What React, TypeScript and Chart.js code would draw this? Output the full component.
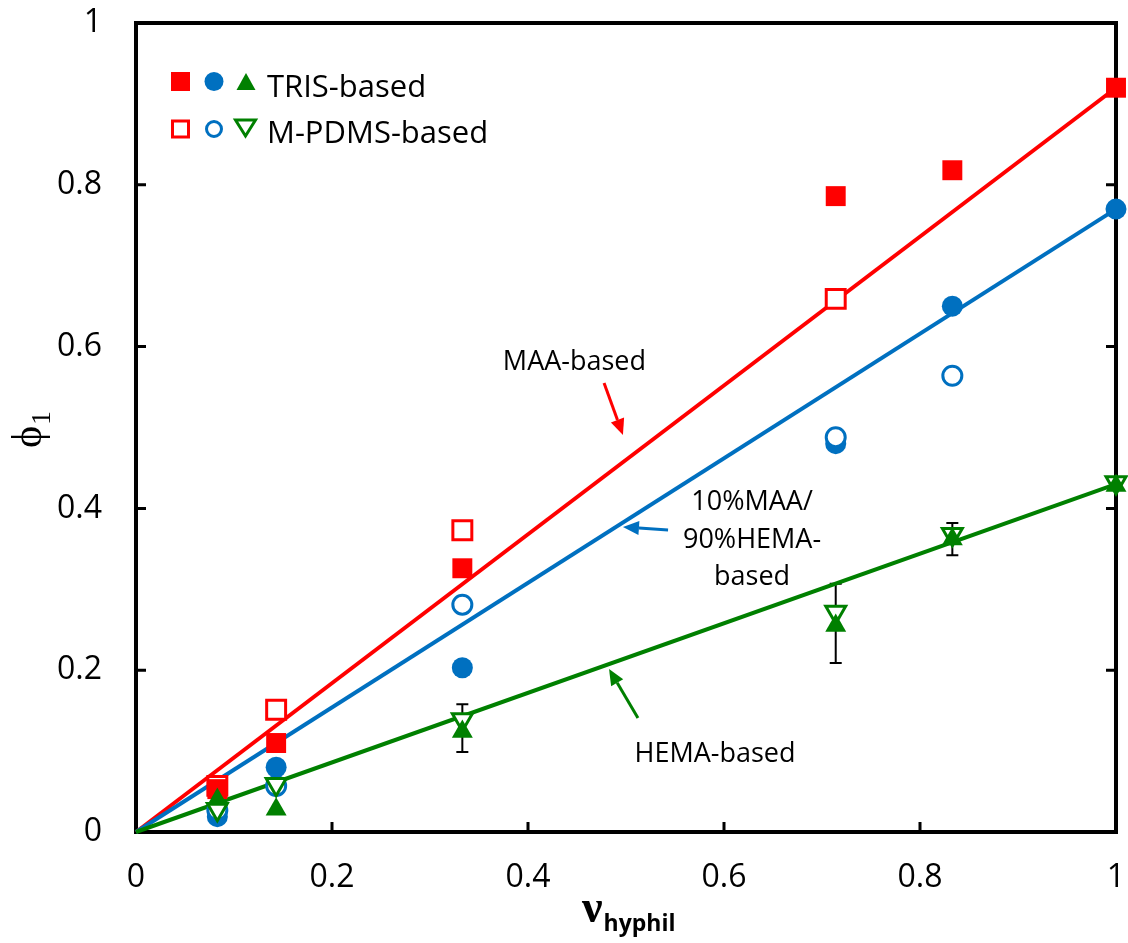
import React, { useEffect, useRef } from "react";
import { Chart, registerables } from "chart.js";

Chart.register(...registerables);

// ---- data ----
const xValues = [0.083, 0.143, 0.333, 0.714, 0.833, 1.0];
const tickValues = [0.2, 0.4, 0.6, 0.8];
const tickLabels = ["0", "0.2", "0.4", "0.6", "0.8", "1"];

// TRIS-based (filled markers)
const maaTris = [0.053, 0.11, 0.326, 0.786, 0.818, 0.92];
const mixTris = [0.019, 0.08, 0.203, 0.48, 0.65, 0.77];
const hemaTris = [0.04, 0.028, 0.124, 0.255, 0.362, 0.428];

// M-PDMS-based (open markers)
const maaPdms = [0.057, 0.151, 0.373, 0.659, null, null];
const mixPdms = [0.027, 0.057, 0.281, 0.488, 0.564, null];
const hemaPdms = [0.028, 0.059, 0.139, 0.272, 0.368, 0.432];

// error bars (HEMA-based)
const hemaErrLow = [null, null, 0.099, 0.209, 0.342, null];
const hemaErrHigh = [null, null, 0.158, 0.307, 0.382, null];

// fitted lines through the origin
const fitX = [0, 1];
const fitMaa = [0, 0.92];
const fitMix = [0, 0.77];
const fitHema = [0, 0.43];

const RED = "#FF0000";
const BLUE = "#0070C0";
const GREEN = "#008000";
const SANS = '"Open Sans", "DejaVu Sans", sans-serif';
const SERIF = '"Liberation Serif", "DejaVu Serif", serif';

// annotation anchors in data coordinates
const annMaaText = { x: 0.4474, y: 0.5711 };
const annMaaArrow = { x1: 0.4776, y1: 0.555, x2: 0.4969, y2: 0.4907 };
const annMixLines = ["10%MAA/", "90%HEMA-", "based"];
const annMixX = 0.6286;
const annMixY = [0.398, 0.351, 0.3053];
const annMixArrow = { x1: 0.5429, y1: 0.3733, x2: 0.4969, y2: 0.377 };
const annHemaText = { x: 0.5908, y: 0.0865 };
const annHemaArrow = { x1: 0.5122, y1: 0.1409, x2: 0.4827, y2: 0.2015 };

function pts(ys: (number | null)[]) {
  const out: { x: number; y: number }[] = [];
  xValues.forEach((x, i) => {
    const y = ys[i];
    if (y !== null && y !== undefined) out.push({ x, y });
  });
  return out;
}

function fitPts(ys: number[]) {
  return fitX.map((x, i) => ({ x, y: ys[i] }));
}

function fmtTick(v: number) {
  const idx = Math.round(v / 0.2);
  return tickLabels[idx] ?? String(v);
}

function drawArrow(ctx: CanvasRenderingContext2D, x1: number, y1: number, x2: number, y2: number, color: string) {
  const ang = Math.atan2(y2 - y1, x2 - x1);
  const headLen = 16;
  const headW = 7;
  const bx = x2 - Math.cos(ang) * headLen;
  const by = y2 - Math.sin(ang) * headLen;
  ctx.save();
  ctx.strokeStyle = color;
  ctx.fillStyle = color;
  ctx.lineWidth = 3;
  ctx.beginPath();
  ctx.moveTo(x1, y1);
  ctx.lineTo(bx, by);
  ctx.stroke();
  ctx.beginPath();
  ctx.moveTo(x2, y2);
  ctx.lineTo(bx + Math.sin(ang) * headW, by - Math.cos(ang) * headW);
  ctx.lineTo(bx - Math.sin(ang) * headW, by + Math.cos(ang) * headW);
  ctx.closePath();
  ctx.fill();
  ctx.restore();
}

function shapeSquare(ctx: CanvasRenderingContext2D, cx: number, cy: number, s: number) {
  ctx.beginPath();
  ctx.rect(cx - s / 2, cy - s / 2, s, s);
}
function shapeCircle(ctx: CanvasRenderingContext2D, cx: number, cy: number, r: number) {
  ctx.beginPath();
  ctx.arc(cx, cy, r, 0, Math.PI * 2);
}
function shapeTri(ctx: CanvasRenderingContext2D, cx: number, top: number, w: number, h: number, inverted: boolean) {
  ctx.beginPath();
  if (!inverted) {
    ctx.moveTo(cx, top);
    ctx.lineTo(cx + w / 2, top + h);
    ctx.lineTo(cx - w / 2, top + h);
  } else {
    ctx.moveTo(cx - w / 2, top);
    ctx.lineTo(cx + w / 2, top);
    ctx.lineTo(cx, top + h);
  }
  ctx.closePath();
}

function zeroPad(s: any) {
  s.paddingTop = 0;
  s.paddingBottom = 0;
  s.paddingLeft = 0;
  s.paddingRight = 0;
}

const decorPlugin = {
  id: "decor",
  beforeDatasetsDraw(chart: any) {
    const { ctx, chartArea: a, scales } = chart;
    const xs = scales.x;
    const ys = scales.y;
    ctx.save();
    // frame
    ctx.strokeStyle = "#000";
    ctx.lineWidth = 4;
    ctx.strokeRect(a.left, a.top, a.right - a.left, a.bottom - a.top);
    // inward tick marks
    ctx.lineWidth = 3;
    tickValues.forEach((v) => {
      const py = ys.getPixelForValue(v);
      const px = xs.getPixelForValue(v);
      ctx.beginPath();
      ctx.moveTo(a.left, py);
      ctx.lineTo(a.left + 10, py);
      ctx.moveTo(a.right - 10, py);
      ctx.lineTo(a.right, py);
      ctx.moveTo(px, a.bottom);
      ctx.lineTo(px, a.bottom - 10);
      ctx.stroke();
    });
    // error bars
    ctx.lineWidth = 2;
    xValues.forEach((xv, i) => {
      const lo = hemaErrLow[i];
      const hi = hemaErrHigh[i];
      if (lo === null || hi === null) return;
      const px = xs.getPixelForValue(xv);
      const pl = ys.getPixelForValue(lo);
      const ph = ys.getPixelForValue(hi);
      ctx.beginPath();
      ctx.moveTo(px, pl);
      ctx.lineTo(px, ph);
      ctx.moveTo(px - 6, pl);
      ctx.lineTo(px + 6, pl);
      ctx.moveTo(px - 6, ph);
      ctx.lineTo(px + 6, ph);
      ctx.stroke();
    });
    ctx.restore();
  },
  afterDraw(chart: any) {
    const { ctx, scales } = chart;
    const xs = scales.x;
    const ys = scales.y;
    const X = (v: number) => xs.getPixelForValue(v);
    const Y = (v: number) => ys.getPixelForValue(v);
    ctx.save();

    // ---- legend ----
    ctx.fillStyle = RED;
    shapeSquare(ctx, 180.5, 81.5, 19);
    ctx.fill();
    ctx.fillStyle = BLUE;
    shapeCircle(ctx, 214, 81.5, 9.5);
    ctx.fill();
    ctx.fillStyle = GREEN;
    shapeTri(ctx, 246, 73, 19, 17, false);
    ctx.fill();

    ctx.lineWidth = 3;
    ctx.fillStyle = "#fff";
    ctx.strokeStyle = RED;
    shapeSquare(ctx, 180.5, 129, 16);
    ctx.fill();
    ctx.stroke();
    ctx.strokeStyle = BLUE;
    shapeCircle(ctx, 214, 129, 7.5);
    ctx.fill();
    ctx.stroke();
    ctx.strokeStyle = GREEN;
    shapeTri(ctx, 245.5, 120, 20, 16, true);
    ctx.fill();
    ctx.stroke();

    ctx.fillStyle = "#000";
    ctx.textAlign = "left";
    ctx.textBaseline = "alphabetic";
    ctx.font = `31px ${SANS}`;
    ctx.fillText("TRIS-based", 267, 97);
    ctx.fillText("M-PDMS-based", 267, 143);

    // ---- annotations ----
    ctx.font = `27px ${SANS}`;
    ctx.textAlign = "center";
    ctx.fillStyle = "#000";
    ctx.fillText("MAA-based", X(annMaaText.x), Y(annMaaText.y));
    annMixLines.forEach((t, i) => ctx.fillText(t, X(annMixX), Y(annMixY[i])));
    ctx.fillText("HEMA-based", X(annHemaText.x), Y(annHemaText.y));
    drawArrow(ctx, X(annMaaArrow.x1), Y(annMaaArrow.y1), X(annMaaArrow.x2), Y(annMaaArrow.y2), RED);
    drawArrow(ctx, X(annMixArrow.x1), Y(annMixArrow.y1), X(annMixArrow.x2), Y(annMixArrow.y2), BLUE);
    drawArrow(ctx, X(annHemaArrow.x1), Y(annHemaArrow.y1), X(annHemaArrow.x2), Y(annHemaArrow.y2), GREEN);

    // ---- axis titles ----
    ctx.fillStyle = "#000";
    ctx.textAlign = "left";
    ctx.textBaseline = "alphabetic";
    // x title: ν_hyphil
    ctx.font = `bold 46px ${SERIF}`;
    ctx.fillText("ν", 582, 922);
    const nw = ctx.measureText("ν").width;
    ctx.font = `bold 23px ${SANS}`;
    ctx.fillText("hyphil", 582 + nw + 1, 931);
    // y title: ϕ1 rotated
    ctx.save();
    ctx.translate(41, 448);
    ctx.rotate(-Math.PI / 2);
    ctx.font = `42px ${SERIF}`;
    ctx.fillText("ϕ", 0, 0);
    const w = ctx.measureText("ϕ").width;
    ctx.font = `28px ${SERIF}`;
    ctx.fillText("1", w + 1, 9);
    ctx.restore();

    ctx.restore();
  },
};

export default function App() {
  const ref = useRef<HTMLCanvasElement | null>(null);
  useEffect(() => {
    if (!ref.current) return;
    const chart = new Chart(ref.current, {
      type: "scatter",
      data: {
        datasets: [
          { data: pts(hemaTris), pointStyle: "triangle", pointRadius: 12.1, backgroundColor: GREEN, borderColor: GREEN, borderWidth: 0, order: 1, clip: false } as any,
          { data: pts(hemaPdms), pointStyle: "triangle", rotation: 180, pointRadius: 11.5, backgroundColor: "#fff", borderColor: GREEN, borderWidth: 3, order: 2, clip: false } as any,
          { data: pts(mixPdms), pointStyle: "circle", pointRadius: 9.5, backgroundColor: "#fff", borderColor: BLUE, borderWidth: 3, order: 3, clip: false } as any,
          { data: pts(mixTris), pointStyle: "circle", pointRadius: 10.5, backgroundColor: BLUE, borderColor: BLUE, borderWidth: 0, order: 4, clip: false } as any,
          { data: pts(maaTris), pointStyle: "rect", pointRadius: 14.1, backgroundColor: RED, borderColor: RED, borderWidth: 0, order: 5, clip: false } as any,
          { data: pts(maaPdms), pointStyle: "rect", pointRadius: 13.4, backgroundColor: "#fff", borderColor: RED, borderWidth: 3, order: 6, clip: false } as any,
          { data: fitPts(fitHema), showLine: true, borderColor: GREEN, borderWidth: 4, pointRadius: 0, order: 7, clip: false } as any,
          { data: fitPts(fitMix), showLine: true, borderColor: BLUE, borderWidth: 4, pointRadius: 0, order: 8, clip: false } as any,
          { data: fitPts(fitMaa), showLine: true, borderColor: RED, borderWidth: 4, pointRadius: 0, order: 9, clip: false } as any,
        ],
      },
      options: {
        responsive: false,
        animation: false,
        devicePixelRatio: 1,
        events: [],
        layout: { autoPadding: false, padding: { left: 0, top: 23, right: 12, bottom: 0 } },
        plugins: { legend: { display: false }, tooltip: { enabled: false } },
        scales: {
          x: {
            type: "linear",
            min: 0,
            max: 1,
            ticks: {
              stepSize: 0.2,
              autoSkip: false,
              maxRotation: 0,
              padding: 27,
              color: "#000",
              font: { family: SANS, size: 32 },
              callback: (v: any) => fmtTick(Number(v)),
            },
            grid: { display: false, drawTicks: false },
            border: { display: false },
            afterFit: (s: any) => {
              s.height = 111;
              zeroPad(s);
            },
          },
          y: {
            type: "linear",
            min: 0,
            max: 1,
            ticks: {
              stepSize: 0.2,
              padding: 34,
              color: "#000",
              font: { family: SANS, size: 32 },
              callback: (v: any) => fmtTick(Number(v)),
            },
            grid: { display: false, drawTicks: false },
            border: { display: false },
            afterFit: (s: any) => {
              s.width = 136;
              zeroPad(s);
            },
          },
        },
      } as any,
      plugins: [decorPlugin],
    });
    return () => chart.destroy();
  }, []);

  return (
    <div style={{ position: "absolute", left: 0, top: 0, width: 1128, height: 943, background: "#fff" }}>
      <canvas ref={ref} width={1128} height={943} style={{ display: "block" }} />
    </div>
  );
}
